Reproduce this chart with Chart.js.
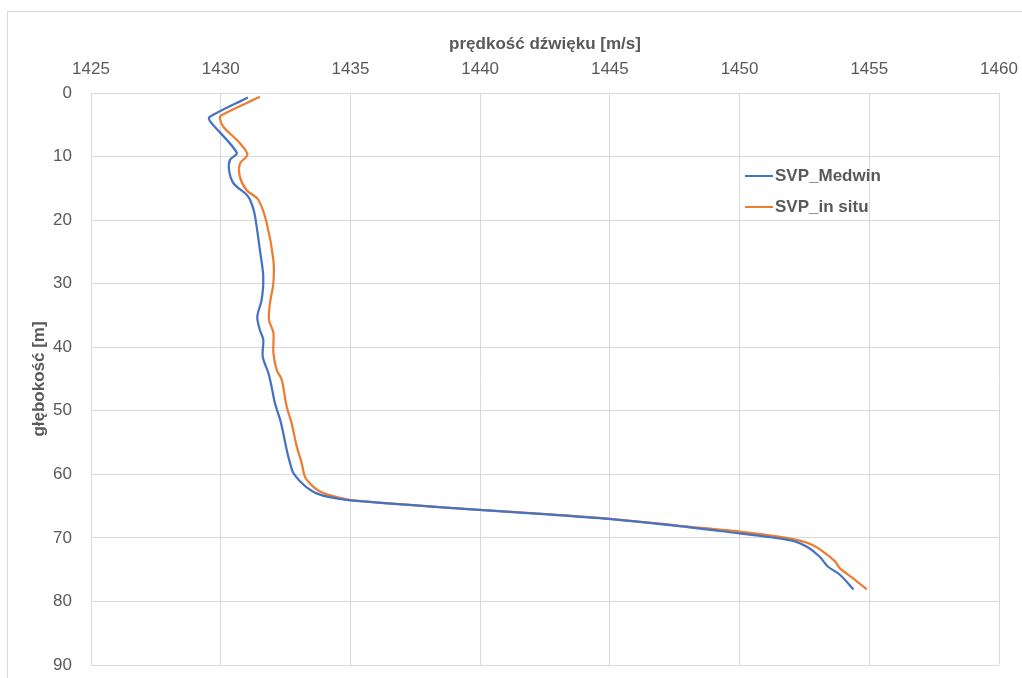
<!DOCTYPE html>
<html><head><meta charset="utf-8">
<script src="https://cdn.jsdelivr.net/npm/chart.js@4"></script>
<style>
html,body{margin:0;padding:0;background:#fff;}
#wrap{position:relative;width:1022px;height:678px;overflow:hidden;}
#frame{position:absolute;left:7px;top:11px;width:1100px;height:800px;border:1px solid #d9d9d9;box-sizing:border-box;}
canvas{position:absolute;left:0;top:0;}
</style></head>
<body><div id="wrap"><div id="frame"></div><canvas id="c" width="1022" height="678"></canvas></div>
<script>
const xTickLabels = [1425,1430,1435,1440,1445,1450,1455,1460];
const yTickLabels = [0,10,20,30,40,50,60,70,80,90];
const seriesNames = ['SVP_Medwin','SVP_in situ'];
const medwinDepth = [0.7,3.8,4.5,9.4,10.5,12.1,14.2,16.0,16.8,18.9,24.7,28.9,32.5,35.2,37.3,38.8,41.5,44.1,46.2,48.8,51.4,53.5,56.1,58.2,59.8,61.1,62.0,63.0,63.6,64.1,65.6,66.3,67.0,68.1,69.3,69.9,70.5,71.4,73.0,74.5,75.8,78.1];
const medwinSpeed = [1431.05,1429.56,1429.6,1430.62,1430.36,1430.32,1430.49,1431.0,1431.13,1431.3,1431.51,1431.64,1431.58,1431.41,1431.51,1431.64,1431.62,1431.84,1431.96,1432.09,1432.29,1432.41,1432.54,1432.67,1432.8,1433.06,1433.3,1433.7,1434.2,1435.0,1439.95,1442.6,1444.95,1447.6,1450.0,1451.2,1452.1,1452.6,1453.1,1453.4,1453.87,1454.39];
const insituDepth = [0.6,3.5,4.0,5.3,7.9,9.7,11.1,13.2,15.3,16.8,20.4,26.3,29.9,33.0,35.7,37.7,40.9,43.6,45.1,49.3,51.9,55.6,58.2,60.4,61.7,62.7,63.4,64.1,65.6,66.3,67.0,68.1,69.0,69.8,70.4,71.2,72.2,73.7,74.8,76.4,78.1];
const insituSpeed = [1431.51,1430.03,1429.97,1430.1,1430.74,1431.03,1430.74,1430.74,1431.0,1431.45,1431.77,1432.03,1432.03,1431.9,1431.86,1432.03,1432.03,1432.16,1432.35,1432.54,1432.73,1432.93,1433.12,1433.25,1433.5,1433.83,1434.3,1435.1,1440.0,1442.7,1445.0,1447.7,1450.0,1451.5,1452.3,1452.85,1453.23,1453.68,1453.87,1454.39,1454.9];
const colors = ['#4472C4','#ED7D31'];

const toPts = (d,s) => d.map((v,i)=>({x:s[i],y:v}));
const FONT = "'Liberation Sans', Arial, sans-serif";
const GRAY = '#595959';

const legendPlugin = {
  id:'inlegend',
  afterDraw(chart){
    const {ctx, chartArea:a} = chart;
    ctx.save();
    chart.data.datasets.forEach((ds,i)=>{
      const y = a.top + 83 + i*31;
      ctx.strokeStyle = ds.borderColor; ctx.lineWidth = 2;
      ctx.beginPath(); ctx.moveTo(a.left+654,y); ctx.lineTo(a.left+682,y); ctx.stroke();
      ctx.fillStyle = GRAY; ctx.font = 'bold 17px '+FONT; ctx.textBaseline='middle'; ctx.textAlign='left';
      ctx.fillText(ds.label, a.left+684, y);
    });
    ctx.restore();
  }
};
const zeroPad = s => { s.paddingLeft = 0; s.paddingRight = 0; s.paddingTop = 0; s.paddingBottom = 0; };

new Chart(document.getElementById('c'), {
  type:'line',
  data:{datasets:[
    {label:seriesNames[0], data:toPts(medwinDepth,medwinSpeed), borderColor:colors[0], borderWidth:2.25, pointRadius:0, tension:0.3, fill:false},
    {label:seriesNames[1], data:toPts(insituDepth,insituSpeed), borderColor:colors[1], borderWidth:2.25, pointRadius:0, tension:0.3, fill:false}
  ]},
  options:{
    responsive:false, animation:false, indexAxis:'y',
    layout:{padding:{left:0,top:0,right:23,bottom:13}},
    plugins:{legend:{display:false}, tooltip:{enabled:false}},
    scales:{
      x:{type:'linear', position:'top', min:1425, max:1460,
        afterBuildTicks(s){ s.ticks = xTickLabels.map(v=>({value:v})); },
        afterFit(s){ s.height = 93; zeroPad(s); },
        grid:{color:'#d9d9d9', drawTicks:false, lineWidth:1},
        border:{display:true,color:'#d9d9d9'},
        ticks:{color:GRAY, font:{family:FONT,size:17}, padding:13, maxRotation:0, callback:v=>String(v)},
        title:{display:true, text:'prędkość dźwięku [m/s]', color:GRAY, font:{family:FONT,size:17,weight:'bold'}, padding:{top:34,bottom:0}}
      },
      y:{type:'linear', reverse:true, min:0, max:90,
        afterBuildTicks(s){ s.ticks = yTickLabels.map(v=>({value:v})); },
        afterFit(s){ s.width = 91; zeroPad(s); },
        grid:{color:'#d9d9d9', drawTicks:false, lineWidth:1},
        border:{display:true,color:'#d9d9d9'},
        ticks:{color:GRAY, font:{family:FONT,size:17}, padding:19, callback:v=>String(v)},
        title:{display:true, text:'głębokość [m]', color:GRAY, font:{family:FONT,size:17,weight:'bold'}, padding:{top:29,bottom:0}}
      }
    }
  },
  plugins:[legendPlugin]
});
</script></body></html>
